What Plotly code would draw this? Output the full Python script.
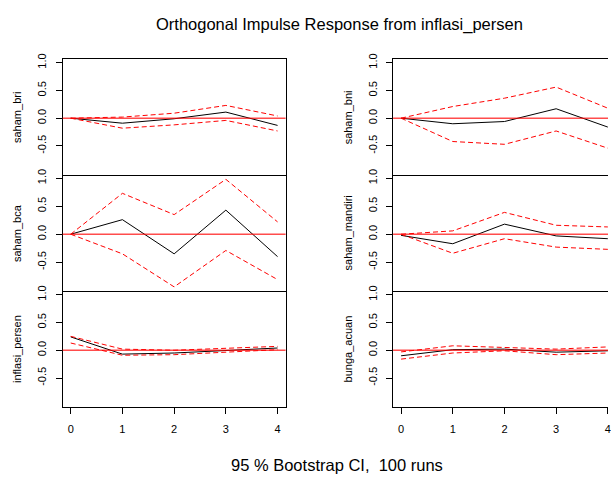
import plotly.graph_objects as go

# ---------------- data ----------------
horizons = [0, 1, 2, 3, 4]
tick_labels_x = ["0", "1", "2", "3", "4"]
y_tickvals = [-0.5, 0.0, 0.5, 1.0]
y_ticktext = ["-0.5", "0.0", "0.5", "1.0"]

panel_names = ["saham_bri", "saham_bni", "saham_bca", "saham_mandiri", "inflasi_persen", "bunga_acuan"]

irf_saham_bri = [0.0, -0.09, -0.01, 0.11, -0.13]
upper_saham_bri = [0.0, 0.02, 0.09, 0.23, 0.04]
lower_saham_bri = [0.0, -0.18, -0.12, -0.04, -0.23]

irf_saham_bni = [0.0, -0.10, -0.06, 0.17, -0.16]
upper_saham_bni = [0.0, 0.21, 0.36, 0.56, 0.18]
lower_saham_bni = [0.0, -0.42, -0.47, -0.23, -0.54]

irf_saham_bca = [0.0, 0.26, -0.35, 0.43, -0.40]
upper_saham_bca = [0.0, 0.73, 0.35, 0.98, 0.22]
lower_saham_bca = [0.0, -0.35, -0.94, -0.29, -0.81]

irf_saham_mandiri = [-0.02, -0.17, 0.18, -0.03, -0.08]
upper_saham_mandiri = [0.0, 0.06, 0.39, 0.16, 0.13]
lower_saham_mandiri = [0.0, -0.34, -0.08, -0.23, -0.27]

irf_inflasi_persen = [0.24, -0.07, -0.05, 0.0, 0.04]
upper_inflasi_persen = [0.25, 0.02, 0.0, 0.03, 0.07]
lower_inflasi_persen = [0.13, -0.09, -0.08, -0.04, 0.01]

irf_bunga_acuan = [-0.10, 0.01, 0.02, -0.035, -0.01]
upper_bunga_acuan = [-0.03, 0.08, 0.05, 0.02, 0.06]
lower_bunga_acuan = [-0.16, -0.05, -0.01, -0.08, -0.05]

irf_values = [irf_saham_bri, irf_saham_bni, irf_saham_bca, irf_saham_mandiri, irf_inflasi_persen, irf_bunga_acuan]
upper_values = [upper_saham_bri, upper_saham_bni, upper_saham_bca, upper_saham_mandiri, upper_inflasi_persen, upper_bunga_acuan]
lower_values = [lower_saham_bri, lower_saham_bni, lower_saham_bca, lower_saham_mandiri, lower_inflasi_persen, lower_bunga_acuan]

title_text = "Orthogonal Impulse Response from inflasi_persen"
footer_text = "95 % Bootstrap CI,&nbsp; 100 runs"

# ---------------- layout geometry ----------------
W, H = 611, 477
FONT = "Liberation Sans, Arial, sans-serif"

x_domains = [[63 / W, 287 / W], [395 / W, 1.0]]
x_ranges = [[-0.155, 4.155], [-0.155, 4.003]]
row_px = [(54, 171), (171, 289), (289, 406)]
y_domains = [[1 - b / H, 1 - t / H] for (t, b) in row_px]
y_range = [-1.02, 1.06]

fig = go.Figure()
layout = dict(
    width=W, height=H,
    margin=dict(l=0, r=0, t=0, b=0),
    paper_bgcolor="white", plot_bgcolor="white",
    showlegend=False,
    font=dict(family=FONT, size=11, color="black"),
    annotations=[], shapes=[],
)

for i, name in enumerate(panel_names):
    row, col = i // 2, i % 2
    k = i + 1
    xa = "x" if k == 1 else f"x{k}"
    ya = "y" if k == 1 else f"y{k}"
    xkey = "xaxis" if k == 1 else f"xaxis{k}"
    ykey = "yaxis" if k == 1 else f"yaxis{k}"

    fig.add_trace(go.Scatter(x=horizons, y=irf_values[i], mode="lines",
                             line=dict(color="black", width=1), xaxis=xa, yaxis=ya, hoverinfo="skip"))
    fig.add_trace(go.Scatter(x=horizons, y=upper_values[i], mode="lines",
                             line=dict(color="#ff0000", width=1, dash="5px,3px"), xaxis=xa, yaxis=ya, hoverinfo="skip"))
    fig.add_trace(go.Scatter(x=horizons, y=lower_values[i], mode="lines",
                             line=dict(color="#ff0000", width=1, dash="5px,3px"), xaxis=xa, yaxis=ya, hoverinfo="skip"))

    bottom = row == 2
    layout[xkey] = dict(
        domain=x_domains[col], range=x_ranges[col], anchor=ya,
        showgrid=False, zeroline=False,
        showline=True, linecolor="black", linewidth=1, mirror=(row == 0),
        tickvals=horizons if bottom else [], ticktext=tick_labels_x if bottom else [],
        ticks="outside" if bottom else "", ticklen=6, tickcolor="black",
        showticklabels=bottom, tickfont=dict(family=FONT, size=11, color="black"),
        ticklabelstandoff=6, ticklabeloverflow="allow",
    )
    layout[ykey] = dict(
        domain=y_domains[row], range=y_range, anchor=xa,
        showgrid=False, zeroline=False,
        showline=True, linecolor="black", linewidth=1, mirror=(col == 0),
        tickvals=y_tickvals, ticktext=y_ticktext,
        ticks="outside", ticklen=6, tickcolor="black", tickangle=-90,
        tickfont=dict(family=FONT, size=11, color="black"),
        ticklabelstandoff=5,
    )
    # zero reference line
    layout["shapes"].append(dict(type="line", xref=f"{xa} domain", yref=ya,
                                 x0=0, x1=1, y0=0, y1=0,
                                 line=dict(color="rgba(255,0,0,0.7)", width=1.5), layer="above"))
    # y axis title
    ymid = (y_domains[row][0] + y_domains[row][1]) / 2
    xtitle = 17 / W if col == 0 else 350 / W
    layout["annotations"].append(dict(text=name, xref="paper", yref="paper", x=xtitle, y=ymid,
                                      xanchor="center", yanchor="middle", textangle=-90, showarrow=False,
                                      font=dict(family=FONT, size=11, color="black")))

layout["annotations"].append(dict(text=title_text, xref="paper", yref="paper", x=341 / W, y=1 - 19 / H,
                                  xanchor="center", yanchor="middle", showarrow=False,
                                  font=dict(family=FONT, size=16.5, color="black")))
layout["annotations"].append(dict(text=footer_text, xref="paper", yref="paper", x=339 / W, y=1 - 465 / H,
                                  xanchor="center", yanchor="middle", showarrow=False,
                                  font=dict(family=FONT, size=16.5, color="black")))

fig.update_layout(**layout)
fig.write_html("out.html", config={"displayModeBar": False},
               post_script="document.body.style.margin='0';document.body.style.overflow='hidden';")
